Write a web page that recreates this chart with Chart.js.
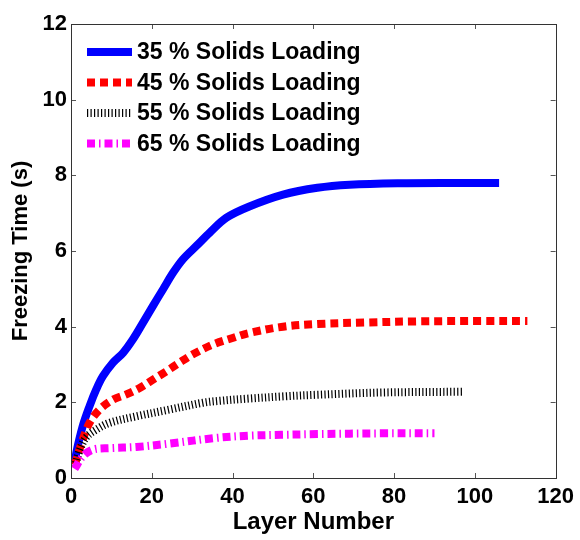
<!DOCTYPE html>
<html>
<head>
<meta charset="utf-8">
<script src="https://cdn.jsdelivr.net/npm/chart.js@4"></script>
<style>
  html, body { margin:0; padding:0; background:#fff; }
  #wrap { width:580px; height:540px; position:relative; }
</style>
</head>
<body>
<div id="wrap"><canvas id="freezeChart" width="580" height="540"></canvas></div>
<script>
// layer numbers and freezing times (s) per solids loading
var layers35 = [1, 1.3, 2.9, 4.6, 6.25, 7.9, 10.4, 12.9, 15.3, 17.8, 20.3, 22.8, 25.3, 27.7, 31.1, 34.4, 38.5, 44, 52.5, 61, 69, 81, 95, 106];
var freeze35 = [0.4, 0.66, 1.37, 1.9, 2.34, 2.69, 3.05, 3.31, 3.66, 4.1, 4.55, 4.99, 5.43, 5.78, 6.14, 6.49, 6.88, 7.17, 7.49, 7.67, 7.75, 7.79, 7.8, 7.8];

var layers45 = [1, 1.3, 2.9, 4.6, 7.1, 10.4, 13.7, 17, 20.3, 23.6, 26.9, 30.2, 35.2, 40, 44, 52.5, 61, 73, 86, 102, 113];
var freeze45 = [0.35, 0.48, 1.01, 1.46, 1.81, 2.07, 2.21, 2.38, 2.6, 2.82, 3.05, 3.27, 3.53, 3.7, 3.83, 4.0, 4.07, 4.11, 4.14, 4.15, 4.15];

var layers55 = [1, 2.2, 3.8, 6.25, 9.6, 16.2, 24.4, 32.7, 36.8, 44, 53, 61, 77, 97];
var freeze55 = [0.3, 0.75, 1.08, 1.28, 1.46, 1.63, 1.81, 1.99, 2.04, 2.1, 2.16, 2.2, 2.26, 2.28];

var layers65 = [0.9, 2.9, 5.4, 9.6, 16.2, 24.4, 36, 44.3, 52, 61, 77, 90];
var freeze65 = [0.24, 0.57, 0.75, 0.79, 0.82, 0.91, 1.06, 1.12, 1.14, 1.16, 1.18, 1.18];

var xTicks = [0, 20, 40, 60, 80, 100, 120];
var yTicks = [0, 2, 4, 6, 8, 10, 12];

var FONT = '"Liberation Sans", Arial, sans-serif';

function pts(xs, ys){ return xs.map(function(x, i){ return { x: x, y: ys[i] }; }); }

// MATLAB-style box: border on all four sides with inward ticks
var boxTicks = {
  id: 'boxTicks',
  afterDatasetsDraw: function(chart){
    var ctx = chart.ctx, a = chart.chartArea;
    var xs = chart.scales.x, ys = chart.scales.y, len = 5;
    ctx.save();
    ctx.strokeStyle = '#555';
    ctx.lineWidth = 1;
    ctx.beginPath();
    xTicks.forEach(function(v){
      var px = Math.round(xs.getPixelForValue(v)) + 0.5;
      ctx.moveTo(px, a.bottom); ctx.lineTo(px, a.bottom - len);
      ctx.moveTo(px, a.top);    ctx.lineTo(px, a.top + len);
    });
    yTicks.forEach(function(v){
      var py = Math.round(ys.getPixelForValue(v)) + 0.5;
      ctx.moveTo(a.left, py);  ctx.lineTo(a.left + len, py);
      ctx.moveTo(a.right, py); ctx.lineTo(a.right - len, py);
    });
    ctx.stroke();
    ctx.strokeStyle = '#333';
    ctx.strokeRect(Math.round(a.left) + 0.5, Math.round(a.top) + 0.5,
                   Math.round(a.right - a.left), Math.round(a.bottom - a.top));
    ctx.restore();
  }
};

// legend drawn inside the axes, line samples use each dataset's own style
var innerLegend = {
  id: 'innerLegend',
  afterDraw: function(chart){
    var ctx = chart.ctx;
    var x0 = 87, x1 = 132, tx = 137, y0 = 52, dy = 30.5;
    ctx.save();
    chart.data.datasets.forEach(function(ds, i){
      var y = y0 + i * dy;
      ctx.beginPath();
      ctx.setLineDash(ds.borderDash || []);
      ctx.lineWidth = ds.borderWidth;
      ctx.strokeStyle = ds.borderColor;
      ctx.lineCap = 'butt';
      ctx.moveTo(x0, y); ctx.lineTo(x1, y);
      ctx.stroke();
      ctx.setLineDash([]);
      ctx.fillStyle = '#000';
      ctx.font = 'bold 23px ' + FONT;
      ctx.textBaseline = 'middle';
      ctx.fillText(ds.label, tx, y + 1);
    });
    ctx.restore();
  }
};

new Chart(document.getElementById('freezeChart'), {
  type: 'line',
  data: {
    datasets: [
      { label: '35 % Solids Loading', data: pts(layers35, freeze35), borderColor: '#0000ff', borderWidth: 8, order: 4 },
      { label: '45 % Solids Loading', data: pts(layers45, freeze45), borderColor: '#ff0000', borderWidth: 8, borderDash: [8, 5], order: 3 },
      { label: '55 % Solids Loading', data: pts(layers55, freeze55), borderColor: '#000000', borderWidth: 8, borderDash: [1.2, 2.3], order: 2 },
      { label: '65 % Solids Loading', data: pts(layers65, freeze65), borderColor: '#ff00ff', borderWidth: 8, borderDash: [8, 4, 1.5, 4], order: 1 }
    ]
  },
  options: {
    responsive: false,
    animation: false,
    layout: { padding: { top: 24, right: 24, left: 0, bottom: 0 } },
    elements: {
      point: { radius: 0 },
      line: { tension: 0.35, fill: false, borderCapStyle: 'butt', borderJoinStyle: 'round' }
    },
    plugins: { legend: { display: false }, tooltip: { enabled: false } },
    scales: {
      x: {
        type: 'linear', min: 0, max: 120,
        afterBuildTicks: function(s){ s.ticks = xTicks.map(function(v){ return { value: v }; }); },
        afterFit: function(s){ s.height = 62; },
        grid: { display: false, drawTicks: false },
        border: { display: false },
        ticks: { color: '#000', font: { family: FONT, size: 22, weight: 'bold' }, padding: 6, maxRotation: 0 },
        title: { display: true, text: 'Layer Number', color: '#000', font: { family: FONT, size: 24, weight: 'bold' }, padding: { top: 0, bottom: 3 } }
      },
      y: {
        type: 'linear', min: 0, max: 12,
        afterBuildTicks: function(s){ s.ticks = yTicks.map(function(v){ return { value: v }; }); },
        afterFit: function(s){ s.width = 71; },
        grid: { display: false, drawTicks: false },
        border: { display: false },
        ticks: { color: '#000', font: { family: FONT, size: 22, weight: 'bold' }, padding: 4 },
        title: { display: true, text: 'Freezing Time (s)', color: '#000', font: { family: FONT, size: 22, weight: 'bold' }, padding: { top: 8, bottom: 0 } }
      }
    }
  },
  plugins: [boxTicks, innerLegend]
});
</script>
</body>
</html>
